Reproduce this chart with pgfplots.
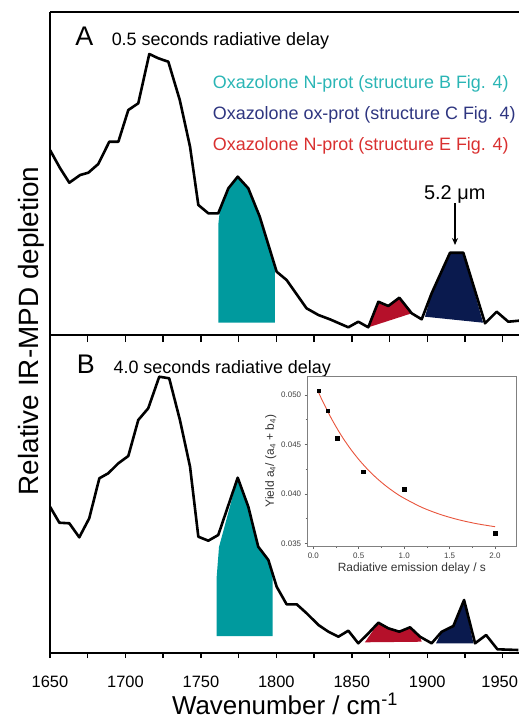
\documentclass[border=0pt]{standalone}
\usepackage{fontspec}
\setmainfont{Liberation Sans}
\usepackage{pgfplots}
\pgfplotsset{compat=1.18}
\usetikzlibrary{arrows.meta}
\definecolor{tealfill}{RGB}{0,154,158}
\definecolor{navyfill}{RGB}{10,26,78}
\definecolor{redfill}{RGB}{181,16,42}
\definecolor{tealtxt}{RGB}{42,181,181}
\definecolor{navytxt}{RGB}{46,53,128}
\definecolor{redtxt}{RGB}{217,48,48}
\definecolor{fitred}{RGB}{232,84,60}
\begin{document}
\begin{tikzpicture}
\path[use as bounding box] (0,0) rectangle (519bp,-719bp);
\pgfplotsset{
  mainpanel/.style={
    scale only axis, width=469bp,
    xmin=1650, xmax=1960.8, ymin=0,
    axis y line*=left, y axis line style={-},
    axis line style={line width=1.8bp},
    ytick=\empty,
    xtick={1650,1700,...,1950},
    minor xtick={1675,1725,...,1925},
    xtick pos=bottom, tick align=outside,
    tick style={line width=1.4bp, black},
    /pgf/number format/assume math mode=true,
    /pgf/number format/set thousands separator={},
    clip=true,
  }
}
% ---------------- Panel A
\begin{axis}[mainpanel, at={(50bp,-335bp)}, anchor=south west,
  height=323bp, ymax=323, xticklabels={},
  major tick length=7bp, minor tick length=7bp]
\addplot[fill=tealfill, draw=none] coordinates {(1761.5,12.3) (1761.5,110) (1762.5,124) (1768.2,146.7) (1774.4,158.3) (1781.4,146.7) (1789,118.3) (1799,66) (1799,12.3)} -- cycle;
\addplot[fill=redfill, draw=none] coordinates {(1861,7.7) (1867.6,33.3) (1874.2,29) (1881.5,37.3) (1889.7,21.7)} -- cycle;
\addplot[fill=navyfill, draw=none] coordinates {(1898.5,18.3) (1902.9,41.7) (1915.1,82.3) (1923.9,82.3) (1937,12.3)} -- cycle;
\addplot[black, line width=2.6bp, line join=round] table {
1650 185
1656.6 167
1662.8 152.3
1670 160
1675.4 162.3
1682 171
1689.3 193.3
1695.3 193.3
1701.9 225
1708.5 231.7
1715.8 281
1721.8 276.7
1728.4 273.3
1736 235
1742.8 188.3
1748.3 130
1754.9 121.7
1761.5 121.7
1768.2 146.7
1774.4 158.3
1781.4 146.7
1789 118.3
1800.2 63.3
1806.8 55
1820 26.7
1827.9 20
1835.5 15.7
1847.7 7.7
1854.3 13.3
1860.9 7.7
1867.6 33.3
1874.2 29
1881.5 37.3
1889.7 21.7
1896.3 15.7
1902.9 41.7
1915.1 82.3
1923.9 82.3
1938.3 11.7
1946 23.3
1953.7 13.3
1960.8 14.3
};
\node[anchor=base west, font=\fontsize{27}{30}\selectfont] at (axis cs:1664.4,290) {A};
\node[anchor=base west, font=\fontsize{18}{20}\selectfont] at (axis cs:1688.6,290) {0.5 seconds radiative delay};
\node[anchor=base west, font=\fontsize{18}{20}\selectfont, text=tealtxt] at (axis cs:1755.6,246.7) {Oxazolone N-prot (structure B Fig. 4)};
\node[anchor=base west, font=\fontsize{18}{20}\selectfont, text=navytxt] at (axis cs:1755.6,215.7) {Oxazolone ox-prot (structure C Fig. 4)};
\node[anchor=base west, font=\fontsize{18}{20}\selectfont, text=redtxt] at (axis cs:1755.6,185) {Oxazolone N-prot (structure E Fig. 4)};
\node[anchor=base, font=\fontsize{20}{22}\selectfont] at (axis cs:1918.2,135.7) {5.2 μm};
\draw[-{Stealth[length=7bp,width=6bp]}, line width=1.4bp] (axis cs:1918.4,132) -- (axis cs:1918.4,90);
\end{axis}
% ---------------- Panel B
\begin{axis}[mainpanel, at={(50bp,-653bp)}, anchor=south west,
  height=318bp, ymax=318,
  major tick length=5bp, minor tick length=5bp,
  xticklabels={1650,1700,1750,1800,1850,1900,\hspace*{-6bp}1950},
  xticklabel style={font=\fontsize{16.5}{18}\selectfont, yshift=-14bp}]
\addplot[fill=tealfill, draw=none] coordinates {(1760.4,17) (1760.4,75) (1762,106) (1774.4,175.3) (1781.4,146.3) (1788,106.3) (1794.7,93) (1797.5,80) (1797.5,17)} -- cycle;
\addplot[fill=redfill, draw=none] coordinates {(1858.7,10.7) (1867.6,30.3) (1874.2,24.7) (1881.5,21.3) (1888.6,25.7) (1895.2,16.3) (1896.3,11.3)} -- cycle;
\addplot[fill=navyfill, draw=none] coordinates {(1905.8,9.7) (1909.6,21.3) (1917.3,27) (1924.4,53) (1930.6,9.7)} -- cycle;
\addplot[black, line width=2.6bp, line join=round] table {
1650 146.3
1656.2 130.3
1662.8 129.7
1669.4 115.7
1676 134.7
1682.7 174.7
1688.6 179.7
1695.3 189.7
1701.9 197
1708.5 233
1715.1 244.7
1722.4 276.3
1729 274.7
1736.1 233
1742.8 186.3
1748.3 116.3
1754.9 112.3
1761.5 118
1774.4 175.3
1781.4 146.3
1788 106.3
1794.7 93
1800.2 66.3
1806.8 48.7
1813.5 48.7
1820.1 39.7
1827.9 28
1834.5 21.3
1841.1 16.3
1847.7 22.3
1854.3 9.7
1861 19.7
1867.6 30.3
1874.2 24.7
1881.5 21.3
1888.6 25.7
1895.2 16.3
1902.9 9.7
1909.6 21.3
1917.3 27
1924.4 53
1931.7 9.7
1939 18
1946.5 3.7
1960.4 3
};
\node[anchor=base west, font=\fontsize{27}{30}\selectfont] at (axis cs:1665.4,279.7) {B};
\node[anchor=base west, font=\fontsize{18}{20}\selectfont] at (axis cs:1689.8,279.7) {4.0 seconds radiative delay};
\end{axis}
% ---------------- Inset
\begin{axis}[at={(307.7bp,-546bp)}, anchor=south west,
  scale only axis, width=208.3bp, height=170bp,
  xmin=-0.062, xmax=2.231, ymin=0.03473, ymax=0.0519,
  axis line style={draw=gray, line width=1bp},
  tick align=outside, xtick pos=bottom, ytick pos=left,
  xtick={0,0.5,...,2}, minor x tick num=1,
  ytick={0.035,0.040,0.045,0.050}, minor y tick num=1,
  major tick length=3bp, minor tick length=2bp,
  tick style={line width=0.6bp, black!60},
  scaled y ticks=false, scaled x ticks=false,
  /pgf/number format/assume math mode=true,
  xticklabel style={/pgf/number format/.cd, fixed, fixed zerofill, precision=1},
  yticklabel style={/pgf/number format/.cd, fixed, fixed zerofill, precision=3},
  ticklabel style={font=\fontsize{8}{9}\selectfont, text=black!75},
  xlabel={Radiative emission delay / s},
  ylabel={Yield a\textsubscript{4}/ (a\textsubscript{4} + b\textsubscript{4})},
  label style={font=\fontsize{12}{13}\selectfont, text=black!80},
  xlabel style={yshift=2bp},
  ylabel style={yshift=-2bp},
]
\addplot[fitred, line width=0.9bp, smooth] coordinates {
(0.05,0.05041) (0.1,0.04940) (0.2,0.04759) (0.3,0.04601) (0.4,0.04465)
(0.5,0.04347) (0.6,0.04245) (0.7,0.04156) (0.8,0.04079) (0.9,0.04012)
(1.0,0.03955) (1.2,0.03861) (1.4,0.03791) (1.6,0.03738) (1.8,0.03698) (2.0,0.03668)
};
\addplot[only marks, mark=square*, mark size=1.8bp, black] coordinates {
(0.06,0.0504) (0.16,0.04838) (0.26,0.04562) (0.55,0.04224) (1.0,0.04046) (2.0,0.0360)
};
\end{axis}
% ---------------- outer labels
\node[anchor=base, rotate=90, font=\fontsize{28}{30}\selectfont] at (38bp,-331bp) {Relative IR-MPD depletion};
\node[anchor=base, font=\fontsize{26}{28}\selectfont] at (285bp,-714bp) {Wavenumber / cm\textsuperscript{-1}};
\end{tikzpicture}
\end{document}
